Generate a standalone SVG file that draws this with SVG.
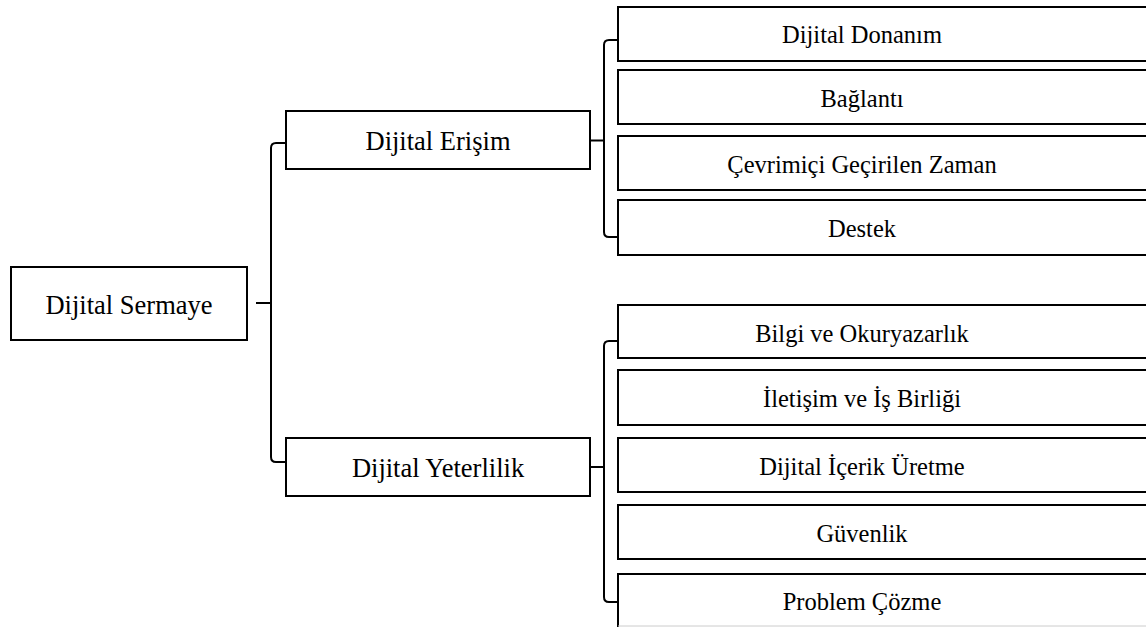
<svg xmlns="http://www.w3.org/2000/svg" width="1146" height="627" viewBox="0 0 1146 627">
<style>
.box{fill:#fff;stroke:#000;stroke-width:2}
.lbl{font-family:"Liberation Serif","Times New Roman",serif;fill:#000;text-anchor:middle}
.l1{font-size:26.5px}
.l2{font-size:24.5px}
.con{fill:none;stroke:#000;stroke-width:2;stroke-linejoin:round}
</style>
<rect width="1146" height="627" fill="#fff"/>
<g id="connectors">
<path class="con" d="M286,143 L276,143 Q271,143 271,148 L271,457 Q271,462 276,462 L286,462"/>
<path class="con" d="M256,303 L271,303"/>
<path class="con" d="M618,40 L609,40 Q604,40 604,45 L604,232 Q604,237 609,237 L618,237"/>
<path class="con" d="M590,140.5 L604,140.5"/>
<path class="con" d="M618,341 L609,341 Q604,341 604,346 L604,597 Q604,602 609,602 L618,602"/>
<path class="con" d="M590,467 L604,467"/>
</g>
<g id="n-sermaye"><rect class="box" x="11" y="267" width="236" height="73"/><text class="lbl l1" x="129" y="313.5">Dijital Sermaye</text></g>
<g id="n-erisim"><rect class="box" x="286" y="111" width="304" height="58"/><text class="lbl l1" x="438" y="150">Dijital Erişim</text></g>
<g id="n-yeterlilik"><rect class="box" x="286" y="438" width="304" height="58"/><text class="lbl l1" x="438" y="477">Dijital Yeterlilik</text></g>
<g id="n-donanim"><rect class="box" x="618" y="7" width="540" height="54"/><text class="lbl l2" x="862" y="43">Dijital Donanım</text></g>
<g id="n-baglanti"><rect class="box" x="618" y="70" width="540" height="54"/><text class="lbl l2" x="862" y="107">Bağlantı</text></g>
<g id="n-zaman"><rect class="box" x="618" y="136" width="540" height="54"/><text class="lbl l2" x="862" y="172.5">Çevrimiçi Geçirilen Zaman</text></g>
<g id="n-destek"><rect class="box" x="618" y="200" width="540" height="55"/><text class="lbl l2" x="862" y="236.5">Destek</text></g>
<g id="n-bilgi"><rect class="box" x="618" y="305" width="540" height="53"/><text class="lbl l2" x="862" y="341.5">Bilgi ve Okuryazarlık</text></g>
<g id="n-iletisim"><rect class="box" x="618" y="370" width="540" height="55"/><text class="lbl l2" x="862" y="406.5">İletişim ve İş Birliği</text></g>
<g id="n-icerik"><rect class="box" x="618" y="438" width="540" height="54"/><text class="lbl l2" x="862" y="474.5">Dijital İçerik Üretme</text></g>
<g id="n-guvenlik"><rect class="box" x="618" y="505" width="540" height="54"/><text class="lbl l2" x="862" y="541.5">Güvenlik</text></g>
<g id="n-problem"><rect class="box" x="618" y="574" width="540" height="60"/><line x1="618" y1="626" x2="1146" y2="626" stroke="#ccc" stroke-width="1"/><text class="lbl l2" x="862" y="610">Problem Çözme</text></g>
</svg>
